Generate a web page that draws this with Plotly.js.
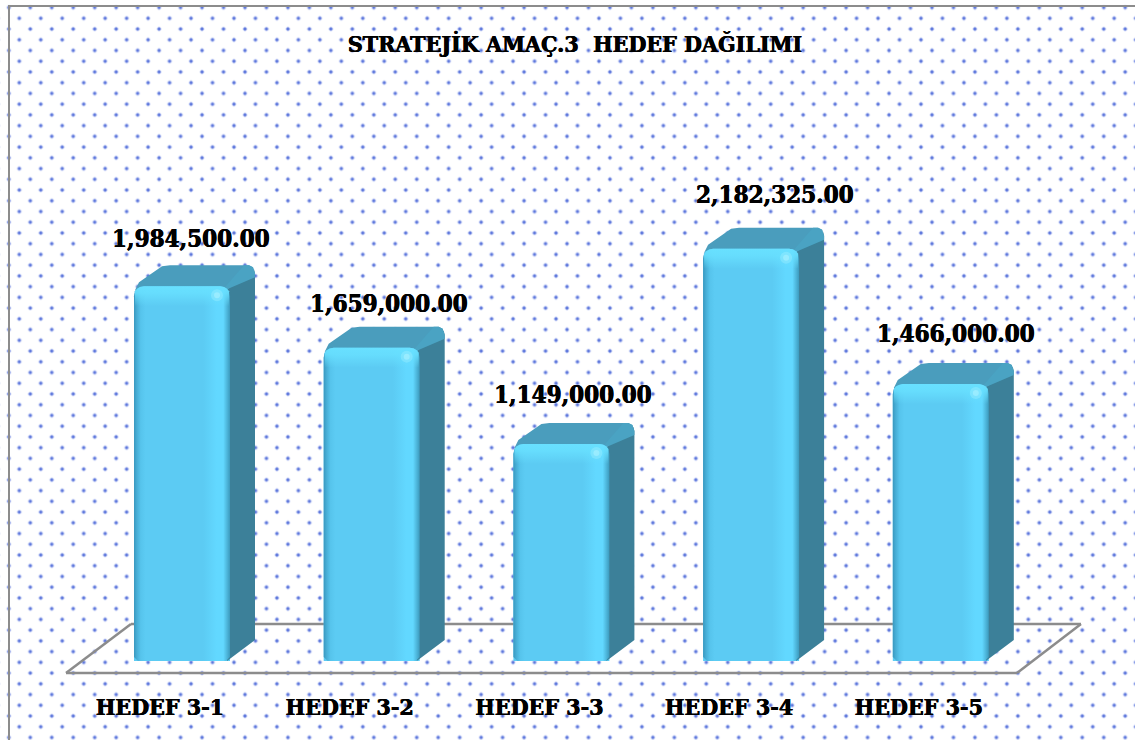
<!DOCTYPE html>
<html>
<head>
<meta charset="utf-8">
<script src="https://cdn.plot.ly/plotly-3.0.1.min.js"></script>
<style>
html,body{margin:0;padding:0;width:1135px;height:740px;overflow:hidden;background-color:#fff;
background-image:
 radial-gradient(circle,#5f78dc 0,#5f78dc 1.05px,rgba(170,185,240,.45) 2px,rgba(255,255,255,0) 2.9px),
 radial-gradient(circle,#5f78dc 0,#5f78dc 1.05px,rgba(170,185,240,.45) 2px,rgba(255,255,255,0) 2.9px);
background-size:21.47px 21.47px;
background-position:8.57px 7.57px,19.57px 18.27px;}
#chart{width:1135px;height:740px}
</style>
</head>
<body>
<div id="chart"></div>
<script>
// ---- data ----
var categories = ['HEDEF 3-1','HEDEF 3-2','HEDEF 3-3','HEDEF 3-4','HEDEF 3-5'];
var values = [1984500, 1659000, 1149000, 2182325, 1466000];
// label nudges (px from each category centre / from the bar's front top)
var labelNudgeX = [31, 39, 34, 46, 37];
var labelNudgeY = [48, 44, 49, 54, 51];

// ---- scale ----
var W = 1135, H = 740, B = 50;
var pitch = 189.7, cat0 = 160, basePx = 661, unitsPerPx = 5294;
var barL = -26, barW = 96, dx = 25, dy = 21;
var serif = '"DejaVu Serif Condensed","DejaVu Serif",serif';
var heavy = '0.35px 0 0 #000, -0.35px 0 0 #000';
function X(i, px){ return i + px / pitch; }
function Y(v, px){ return v + px * unitsPerPx; }
function pxAt(i, u, v, top){ return [X(i, barL + u), Y(top, v)]; }

function polyTrace(pts, style){
  var t = Object.assign({type:'scatter', mode:'lines', fill:'toself', line:{width:0},
    hoverinfo:'skip', showlegend:false,
    x: pts.map(function(p){return p ? p[0] : null;}),
    y: pts.map(function(p){return p ? p[1] : null;})}, style);
  return t;
}

var traces = [];
// front face: real bars
traces.push({type:'bar', x:categories.map(function(c,i){return i;}), y:values,
  width: barW/pitch, offset: barL/pitch,
  marker:{color:'#5ccbf3', line:{width:0}, cornerradius:10},
  hoverinfo:'skip', showlegend:false});

// side faces, top faces, bevels
var side=[], topf=[], bevel=[];
values.forEach(function(v,i){
  var p=function(u,w,b){return pxAt(i,u,w,b===undefined?v:b);};
  side.push(p(barW-3,-3), p(barW+dx-1,dy-4), p(barW+dx,dy-8), p(barW+dx,dy,0), p(barW-3,0,0), null);
  topf.push(p(1,-4), p(5,4), p(28,dy-1), p(36,dy), p(barW+dx-6,dy), p(barW+dx-2,dy-2), p(barW+dx-1,dy-6),
            p(barW-3,-3), null);
  bevel.push(p(barW-6,-2), p(barW+dx-11,dy), p(barW+dx-6,dy), p(barW+dx-2,dy-2), p(barW+dx,dy-8), p(barW+dx,dy-12), p(barW-3,-3), null);
});
traces.push(polyTrace(side,{fillcolor:'#3c8099'}));
traces.push(polyTrace(topf,{fillcolor:'#4a9dbd'}));
traces.push(polyTrace(bevel,{fillcolor:'#4aa3c3'}));

// shading on each front face
values.forEach(function(v,i){
  var r=10, s=4;
  var p=function(u,w,b){return pxAt(i,u,w,b===undefined?v:b);};
  var outline=[
    p(0,-r), p(1,-5), p(3,-2.5), p(6,-0.8), p(r,0),
    p(barW-r,0), p(barW-6,-0.8), p(barW-3,-2.5), p(barW-1,-5), p(barW,-r),
    p(barW,s,0), p(barW-s,0,0), p(s,0,0), p(0,s,0)];
  traces.push(polyTrace(outline,{fillgradient:{type:'horizontal',
    start:X(i,barL), stop:X(i,barL+barW),
    colorscale:[[0,'#3a98bf'],[0.03,'#47aed6'],[0.07,'#56c4ec'],[0.12,'#5ccbf3'],[0.72,'#5ccbf3'],
      [0.86,'#62d8ff'],[0.93,'#62d8ff'],[0.97,'#4db5da'],[1,'#3c9abd']]}}));
  // bright band along the top
  var band=[p(1,-5), p(3,-2.5), p(6,-0.8), p(r,0), p(barW-r,0), p(barW-6,-0.8), p(barW-3,-2.5), p(barW-1,-5), p(barW-1,-20), p(1,-20)];
  traces.push(polyTrace(band,{fillgradient:{type:'vertical',
    start:Y(v,0), stop:Y(v,-20),
    colorscale:[[0,'rgba(104,224,255,1)'],[0.35,'rgba(104,224,255,0.85)'],[1,'rgba(104,224,255,0)']]}}));
});
// glints
[[12,0.3],[6,0.5]].forEach(function(g){
  traces.push({type:'scatter', mode:'markers', hoverinfo:'skip', showlegend:false,
    x:values.map(function(v,i){return X(i,barL+barW-13);}),
    y:values.map(function(v){return Y(v,-9);}),
    marker:{size:g[0], color:'#b4f4ff', opacity:g[1], line:{width:0}}});
});

// value labels
var fmt = function(v){ return v.toLocaleString('en-US',{minimumFractionDigits:2,maximumFractionDigits:2}); };
var annotations = values.map(function(v,i){
  return {x:X(i,labelNudgeX[i]), y:Y(v,labelNudgeY[i]), text:fmt(v), showarrow:false,
    xanchor:'center', yanchor:'middle',
    font:{family:serif, size:24, color:'#000', weight:700, shadow:heavy}};
});

// floor in axis coordinates
var fl=[[-94,-12],[857,-12],[921,37],[-29,37]];
var floorShapes = fl.map(function(a,j){
  var b=fl[(j+1)%fl.length];
  return {type:'line', layer:'below', xref:'x', yref:'y',
    x0:X(0,a[0]), y0:Y(0,a[1]), x1:X(0,b[0]), y1:Y(0,b[1]),
    line:{color:'#8c8c8c', width:2.5}};
});
var plotH = H - B;
var frame = [
  {type:'line', xref:'paper', yref:'paper', x0:9/W, x1:9/W, y0:-B/plotH, y1:1-6/plotH, line:{color:'#8c8c8c',width:2}},
  {type:'line', xref:'paper', yref:'paper', x0:8/W, x1:1, y0:1-6/plotH, y1:1-6/plotH, line:{color:'#8c8c8c',width:2}}
];

var layout = {
  width:W, height:H, margin:{l:0,r:0,t:0,b:B,pad:0},
  paper_bgcolor:'rgba(0,0,0,0)', plot_bgcolor:'rgba(0,0,0,0)',
  barmode:'overlay', showlegend:false,
  title:{text:'STRATEJİK AMAÇ.3\u00A0 HEDEF DAĞILIMI', x:575/W, xanchor:'center', y:1-44/H, yanchor:'middle',
    font:{family:serif, size:23, color:'#000', weight:700, shadow:heavy}},
  xaxis:{type:'linear', range:[-cat0/pitch,(W-cat0)/pitch], tickmode:'array',
    tickvals:categories.map(function(c,i){return i;}), ticktext:categories,
    showgrid:false, zeroline:false, showline:false, ticks:'', ticklabelstandoff:1,
    tickfont:{family:serif, size:23, color:'#000', weight:700, shadow:heavy}},
  yaxis:{range:[(basePx-(H-B))*unitsPerPx,(basePx)*unitsPerPx], visible:false, showgrid:false, zeroline:false},
  annotations:annotations,
  shapes:floorShapes.concat(frame)
};
Plotly.newPlot('chart',traces,layout,{displayModeBar:false,staticPlot:true});
</script>
</body>
</html>
